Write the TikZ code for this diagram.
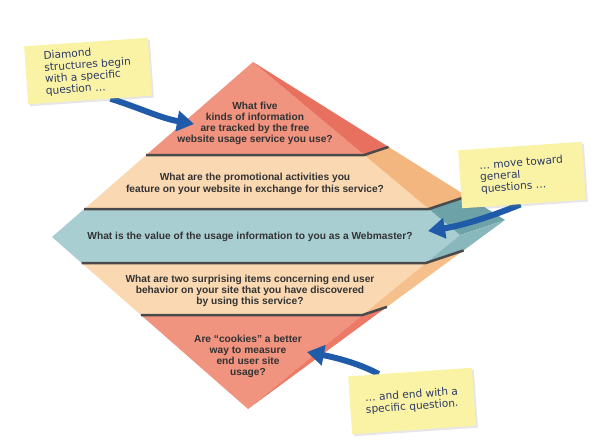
\documentclass[tikz,border=0pt]{standalone}
\usepackage{fontspec}
\setmainfont{Liberation Sans}
\newfontfamily\notefont{DejaVu Sans}
\usetikzlibrary{arrows.meta,shadows}
\definecolor{redfront}{HTML}{F0937F}
\definecolor{redside}{HTML}{E8705E}
\definecolor{redlow}{HTML}{EC7A66}
\definecolor{tanfront}{HTML}{FAD8B2}
\definecolor{tanside}{HTML}{F3B67E}
\definecolor{tanlow}{HTML}{F5C08B}
\definecolor{bluefront}{HTML}{A9CED2}
\definecolor{blueside}{HTML}{6DA2A8}
\definecolor{bluelow}{HTML}{88B8BC}
\definecolor{rulegray}{HTML}{4A4A4A}
\definecolor{bandtext}{HTML}{333333}
\definecolor{notefill}{HTML}{FAF3A5}
\definecolor{notetext}{HTML}{2B3A67}
\definecolor{arrowblue}{HTML}{1F5BA8}
\pgfdeclarelayer{background}
\pgfsetlayers{background,main}
\tikzset{
    band-text/.style={
        font=\bfseries\fontsize{10.2}{11}\selectfont,
        text=bandtext,
        align=center
    },
    band-rule/.style={
        draw=rulegray,
        line width=2.5pt,
        line join=bevel
    },
    note-box/.style={
        fill=notefill,
        text=notetext,
        font=\notefont\fontsize{10.6}{11.8}\selectfont,
        align=left,
        minimum width=124pt,
        minimum height=58pt,
        rotate=4,
        drop shadow={shadow xshift=2pt,shadow yshift=-2pt,opacity=0.2}
    },
    note-arrow/.style={
        draw=arrowblue,
        line width=6pt,
        -{Triangle[width=20pt,length=17pt]}
    }
}

\begin{document}
\begin{tikzpicture}[x=1pt,y=-1pt]
    \useasboundingbox (0,0) rectangle (605,444);
    \coordinate (T) at (253,62);
    \coordinate (L) at (52,237);
    \coordinate (R) at (460,235);
    \coordinate (B) at (248,409);
    \coordinate (P) at (505,220);
    \coordinate (L1) at (146.2,155);
    \coordinate (L2) at (84.2,209);
    \coordinate (L3) at (81.6,263);
    \coordinate (L4) at (140.9,315);
    \coordinate (F1) at (364.3,155);
    \coordinate (F2) at (428.9,209);
    \coordinate (F3) at (425.9,263);
    \coordinate (F4) at (362.5,315);
    \coordinate (S1) at (388.5,146.9);
    \coordinate (S2) at (467.1,196.3);
    \coordinate (S3) at (463.6,250.4);
    \coordinate (S4) at (386.9,306.9);
    \begin{pgfonlayer}{background}
        \fill[redfront] (T) -- (F1) -- (L1) -- cycle;
        \fill[redside] (T) -- (S1) -- (F1) -- cycle;
        \fill[tanfront] (L1) -- (F1) -- (F2) -- (L2) -- cycle;
        \fill[tanside] (F1) -- (S1) -- (S2) -- (F2) -- cycle;
        \fill[bluefront] (L2) -- (F2) -- (R) -- (F3) -- (L3) -- (L) -- cycle;
        \fill[blueside] (F2) -- (S2) -- (P) -- (R) -- cycle;
        \fill[bluelow] (R) -- (P) -- (S3) -- (F3) -- cycle;
        \fill[tanfront] (L3) -- (F3) -- (F4) -- (L4) -- cycle;
        \fill[tanlow] (F3) -- (S3) -- (S4) -- (F4) -- cycle;
        \fill[redfront] (L4) -- (F4) -- (B) -- cycle;
        \fill[redlow] (F4) -- (S4) -- (B) -- cycle;
        \draw[band-rule] (L1) -- (F1) -- (S1);
        \draw[band-rule] (L2) -- (F2) -- (S2);
        \draw[band-rule] (L3) -- (F3) -- (S3);
        \draw[band-rule] (L4) -- (F4) -- (S4);
    \end{pgfonlayer}
    \node [band-text] (Q1) at (255,123) {What five\\kinds of information\\are tracked by the free\\website usage service you use?};
    \node [band-text,font=\bfseries\fontsize{10.2}{12}\selectfont] (Q2) at (255,184) {What are the promotional activities you\\feature on your website in exchange for this service?};
    \node [band-text] (Q3) at (250,237) {What is the value of the usage information to you as a Webmaster?};
    \node [band-text] (Q4) at (250,291) {What are two surprising items concerning end user\\behavior on your site that you have discovered\\by using this service?};
    \node [band-text] (Q5) at (248,356) {Are ``cookies'' a better\\way to measure\\end user site\\usage?};
    \node [note-box] (N1) at (88,71) {Diamond\\structures begin\\with a specific\\question \dots};
    \node [note-box] (N2) at (522,175) {\dots{} move toward\\general\\questions \dots};
    \node [note-box] (N3) at (412,401) {\dots{} and end with a\\specific question.};
    \coordinate (A1) at (194,124);
    \coordinate (A2) at (428,231);
    \coordinate (A3) at (307,352);
    \begin{pgfonlayer}{background}
        \draw[note-arrow] (N1.-55) .. controls (140,108) and (160,118) .. (A1);
        \draw[note-arrow] (N2.-97) .. controls (495,215) and (465,225) .. (A2);
        \draw[note-arrow] (N3.137) .. controls (360,364) and (338,358) .. (A3);
    \end{pgfonlayer}
\end{tikzpicture}
\end{document}
